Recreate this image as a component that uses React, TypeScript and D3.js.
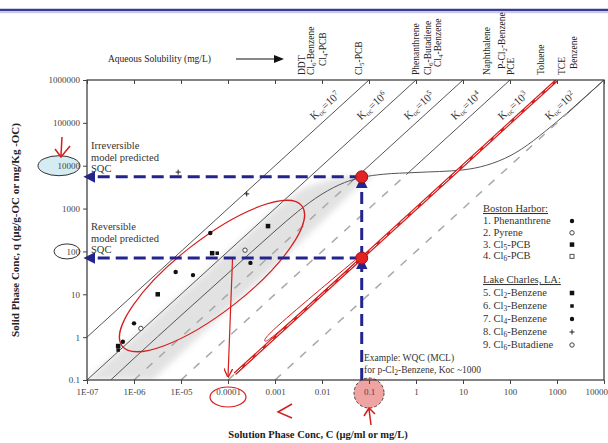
import React, { useEffect, useRef } from 'react';
import * as d3 from 'd3';

// ---- data (C in mg/L, q in mg/kg-OC) ----
const xTicks = [1e-7, 1e-6, 1e-5, 1e-4, 1e-3, 1e-2, 0.1, 1, 10, 100, 1000, 10000];
const xTickLabels = ["1E-07", "1E-06", "1E-05", "0.0001", "0.001", "0.01", "0.1", "1", "10", "100", "1000", "10000"];
const yTicks = [0.1, 1, 10, 100, 1000, 10000, 100000, 1000000];
const yTickLabels = ["0.1", "1", "10", "100", "1000", "10000", "100000", "1000000"];

const kocExps = [7, 6, 5, 4, 3, 2];

// biphasic isotherm
const curveC = [3.2e-7, 1e-6, 1e-5, 1e-4, 1e-3, 3e-3, 1e-2, 3e-2, 0.07, 0.2, 1, 10, 100, 1000, 3162, 10000];
const curveQ = [0.1, 0.32, 3.2, 31, 300, 840, 2180, 4030, 5330, 6320, 6950, 7990, 17000, 107000, 323000, 1000000];

// shaded band around the irreversible branch
const bandUpper = [[1e-7, 0.1], [1e-5, 10], [1e-3, 1000], [4e-3, 3000], [0.02, 5300], [0.12, 6600]];
const bandLower = [[0.12, 5700], [0.05, 2800], [1e-2, 500], [1e-3, 45], [1e-4, 4.5], [2.5e-6, 0.1]];

// compounds on the solubility axis (mg/L)
const solNames = ["DDT", "Cl6-Benzene", "Cl4-PCB", "Cl5-PCB", "Phenanthrene", "Cl6-Butadiene", "Cl4-Benzene",
  "Naphthalene", "P-Cl2-Benzene", "PCE", "Toluene", "TCE", "Benzene"];
const solValues = [0.0037, 0.0056, 0.01, 0.06, 0.98, 1.8, 2.8, 32, 66, 100, 440, 1250, 2200];
const solLift = [0, 0, 9, 0, 0, 0, 8, 0, 6, 0, 0, 0, 6];

// measured points: C, q, legend index
const pointC = [4.6e-7, 4.6e-7, 5.8e-7, 1e-6, 1.4e-6, 3.2e-6, 7.7e-6, 1.8e-5, 4.2e-5, 4.6e-5, 5.9e-5, 2.3e-4, 3e-4, 7.1e-4, 2.5e-4, 8.7e-6];
const pointQ = [0.62, 0.5, 0.78, 2.1, 1.6, 10, 33, 28, 270, 91, 91, 107, 54, 390, 2200, 7100];
const pointType = [5, 6, 1, 7, 9, 3, 1, 7, 1, 5, 6, 2, 7, 3, 8, 8];

const bostonNames = ["Phenanthrene", "Pyrene", "Cl5-PCB", "Cl6-PCB"];
const lakeNames = ["Cl2-Benzene", "Cl3-Benzene", "Cl4-Benzene", "Cl6-Benzene", "Cl6-Butadiene"];

// example (p-Cl2-Benzene)
const wqc = 0.07;
const sqcRev = 70;
const sqcIrr = 5500;

// hand-drawn red annotations, in data units
const redLineC = [1.4e-4, 1000];
const redLoop = [[0.05, 62], [2e-3, 3.2], [6.5e-4, 1.05], [5.6e-4, 0.75], [8e-4, 0.85], [0.05, 52]];
const redDrop = [[1.25e-4, 70], [1.0e-4, 0.12]];

const navy = "#24248f";
const red = "#d41e1e";
const serif = "Liberation Serif, Times New Roman, serif";

const App = () => {
  const svgRef = useRef<SVGSVGElement>(null);

  useEffect(() => {
    const svg = d3.select(svgRef.current);
    svg.selectAll("*").remove();
    const W = 608, H = 443;
    svg.attr("width", W).attr("height", H);

    const x = d3.scaleLog().domain([1e-7, 1e4]).range([87, 604]);
    const y = d3.scaleLog().domain([0.1, 1e6]).range([380, 80]);
    const left = 87, right = 604, top = 80, bottom = 380;

    svg.append("rect").attr("width", W).attr("height", H).attr("fill", "#fff");

    const defs = svg.append("defs");
    defs.append("filter").attr("id", "blur").append("feGaussianBlur").attr("stdDeviation", 3);
    defs.append("clipPath").attr("id", "plot").append("rect")
      .attr("x", left).attr("y", top).attr("width", right - left).attr("height", bottom - top);
    defs.append("marker").attr("id", "arrowBlue").attr("viewBox", "0 0 10 10")
      .attr("refX", 2).attr("refY", 5).attr("markerWidth", 4).attr("markerHeight", 4)
      .attr("orient", "auto").attr("markerUnits", "strokeWidth")
      .append("path").attr("d", "M0,0 L10,5 L0,10 z").attr("fill", navy);
    defs.append("marker").attr("id", "arrowRed").attr("viewBox", "0 0 10 10")
      .attr("refX", 9).attr("refY", 5).attr("markerWidth", 9).attr("markerHeight", 9)
      .attr("orient", "auto").attr("markerUnits", "userSpaceOnUse")
      .append("path").attr("d", "M0,0 L10,5 L0,10").attr("fill", "none").attr("stroke", red).attr("stroke-width", 1.5);

    // header rule
    svg.append("line").attr("x1", 0).attr("x2", W).attr("y1", 10).attr("y2", 10)
      .attr("stroke", "#3a3a96").attr("stroke-width", 2.5);
    svg.append("line").attr("x1", 0).attr("x2", W).attr("y1", 12.5).attr("y2", 12.5)
      .attr("stroke", "#c9cbe6").attr("stroke-width", 1.5);

    // highlighted tick label on x axis (under the text)
    svg.append("circle").attr("cx", x(0.1)).attr("cy", 393).attr("r", 15)
      .attr("fill", "#f0a3a3").attr("stroke", "#444").attr("stroke-dasharray", "3,2");

    const plot = svg.append("g").attr("clip-path", "url(#plot)");

    // shaded band
    const band = bandUpper.concat(bandLower);
    plot.append("path")
      .attr("d", d3.line()(band.map(d => [x(d[0]), y(d[1])]) as [number, number][]) + "Z")
      .attr("fill", "#cfcfcf").attr("opacity", 0.6).attr("filter", "url(#blur)");

    // biphasic curve
    const curvePts = curveC.map((c, i) => [x(c), y(curveQ[i])] as [number, number]);
    plot.append("path").attr("d", d3.line().curve(d3.curveMonotoneX)(curvePts))
      .attr("fill", "none").attr("stroke", "#555").attr("stroke-width", 1);

    // curve q at C, interpolated in log space
    const logCurve = d3.scaleLinear().domain(curveC.map(Math.log10)).range(curveQ.map(Math.log10));
    const ang = Math.atan2(y(1) - y(10), x(10) - x(1));

    // Koc lines: solid above the curve, dashed below
    kocExps.forEach(e => {
      const K = Math.pow(10, e);
      const c0 = Math.max(1e-7, 0.1 / K);
      const c1 = Math.min(1e4, 1e6 / K);
      const samples = d3.range(0, 201).map(i => Math.pow(10, Math.log10(c0) + (Math.log10(c1) - Math.log10(c0)) * i / 200));
      let split = c0;
      samples.forEach(c => { if (Math.log10(K * c) < logCurve(Math.log10(c)) - 0.02) split = c; });
      if (split > c0) {
        plot.append("line")
          .attr("x1", x(c0)).attr("y1", y(K * c0)).attr("x2", x(split)).attr("y2", y(K * split))
          .attr("stroke", "#a8a8a8").attr("stroke-width", 1.5).attr("stroke-dasharray", "8,9");
      }
      plot.append("line")
        .attr("x1", x(split)).attr("y1", y(K * split)).attr("x2", x(c1)).attr("y2", y(K * c1))
        .attr("stroke", "#555").attr("stroke-width", 1);

      // label, on the upper-left side of its line
      const qL = Math.pow(10, 5.5);
      const ux = Math.cos(ang), uy = -Math.sin(ang);
      const nx = -Math.sin(ang), ny = -Math.cos(ang);
      const px = x(qL / K) - 18 * ux + 11 * nx;
      const py = y(qL) - 18 * uy + 11 * ny;
      const t = svg.append("text")
        .attr("transform", `translate(${px},${py}) rotate(${-ang * 180 / Math.PI})`)
        .attr("text-anchor", "middle").attr("dy", "0.35em")
        .attr("font-family", serif).attr("font-size", 11).attr("fill", "#333");
      t.append("tspan").text("K");
      t.append("tspan").attr("font-size", 7.5).attr("dy", 2).text("oc");
      t.append("tspan").attr("dy", -2).text("=10");
      t.append("tspan").attr("font-size", 7.5).attr("dy", -4).text(String(e));
    });

    // red hand-drawn annotations
    const K3 = 1000;
    plot.append("line").attr("x1", x(redLineC[0])).attr("y1", y(K3 * redLineC[0]))
      .attr("x2", x(redLineC[1])).attr("y2", y(K3 * redLineC[1]))
      .attr("stroke", red).attr("stroke-width", 3.2);
    plot.append("line").attr("x1", x(redLineC[0])).attr("y1", y(K3 * redLineC[0]))
      .attr("x2", x(redLineC[1])).attr("y2", y(K3 * redLineC[1]))
      .attr("stroke", "#fff").attr("stroke-width", 1).attr("stroke-dasharray", "10,4");
    plot.append("path")
      .attr("d", d3.line().curve(d3.curveBasis)(redLoop.map(d => [x(d[0]), y(d[1])]) as [number, number][]))
      .attr("fill", "none").attr("stroke", red).attr("stroke-width", 1);

    // ellipse around data
    svg.append("ellipse").attr("cx", 212).attr("cy", 276).attr("rx", 114).attr("ry", 36)
      .attr("transform", `rotate(-38, 212, 276)`)
      .attr("fill", "none").attr("stroke", red).attr("stroke-width", 1.2);

    svg.append("line").attr("x1", x(redDrop[0][0])).attr("y1", y(redDrop[0][1]))
      .attr("x2", x(redDrop[1][0])).attr("y2", y(redDrop[1][1]))
      .attr("stroke", red).attr("stroke-width", 1.2).attr("marker-end", "url(#arrowRed)");

    // blue dashed SQC guides
    [sqcIrr, sqcRev].forEach(q => {
      svg.append("line").attr("x1", x(wqc)).attr("x2", left + 6).attr("y1", y(q)).attr("y2", y(q))
        .attr("stroke", navy).attr("stroke-width", 3).attr("stroke-dasharray", "12,6")
        .attr("marker-end", "url(#arrowBlue)");
    });
    svg.append("line").attr("x1", x(wqc)).attr("x2", x(wqc)).attr("y1", bottom).attr("y2", y(sqcRev) + 9)
      .attr("stroke", navy).attr("stroke-width", 3).attr("stroke-dasharray", "12,6")
      .attr("marker-end", "url(#arrowBlue)");
    svg.append("line").attr("x1", x(wqc)).attr("x2", x(wqc)).attr("y1", y(sqcRev)).attr("y2", y(sqcIrr) + 9)
      .attr("stroke", navy).attr("stroke-width", 3).attr("stroke-dasharray", "12,6")
      .attr("marker-end", "url(#arrowBlue)");
    [sqcIrr, sqcRev].forEach(q => {
      svg.append("circle").attr("cx", x(wqc)).attr("cy", y(q)).attr("r", 6)
        .attr("fill", "#e32222").attr("stroke", "#a01010").attr("stroke-width", 1);
    });

    // data points
    const drawMarker = (g: any, cx: number, cy: number, type: number) => {
      if (type === 3 || type === 5 || type === 6) {
        const s = type === 6 ? 3.5 : 4.5;
        g.append("rect").attr("x", cx - s / 2).attr("y", cy - s / 2).attr("width", s).attr("height", s).attr("fill", "#111");
      } else if (type === 4) {
        g.append("rect").attr("x", cx - 2).attr("y", cy - 2).attr("width", 4).attr("height", 4)
          .attr("fill", "#fff").attr("stroke", "#555");
      } else if (type === 2 || type === 9) {
        g.append("circle").attr("cx", cx).attr("cy", cy).attr("r", 2.2).attr("fill", "#fff").attr("stroke", "#444");
      } else if (type === 8) {
        g.append("path").attr("d", `M${cx - 2.5},${cy}H${cx + 2.5}M${cx},${cy - 2.5}V${cy + 2.5}`)
          .attr("stroke", "#222").attr("stroke-width", 1);
      } else {
        g.append("circle").attr("cx", cx).attr("cy", cy).attr("r", 2.2).attr("fill", "#111");
      }
    };
    const pts = svg.append("g");
    pointC.forEach((c, i) => drawMarker(pts, x(c), y(pointQ[i]), pointType[i]));

    // frame and axes
    svg.append("rect").attr("x", left).attr("y", top).attr("width", right - left).attr("height", bottom - top)
      .attr("fill", "none").attr("stroke", "#333").attr("stroke-width", 1.2);

    svg.append("g").attr("transform", `translate(0,${bottom})`)
      .call(d3.axisBottom(x).tickValues(xTicks).tickSize(4).tickFormat((d, i) => xTickLabels[i]))
      .call(g => g.select(".domain").remove())
      .call(g => g.selectAll("text").attr("font-family", serif).attr("font-size", 9).attr("fill", "#444").attr("dy", "0.9em"))
      .call(g => g.selectAll("text").filter((d, i) => i === xTicks.length - 1).attr("text-anchor", "end").attr("x", 3.5))
      .call(g => g.selectAll("line").attr("stroke", "#444"));
    svg.append("g").attr("transform", `translate(0,${top})`)
      .call(d3.axisBottom(x).tickValues(xTicks).tickSize(4).tickFormat(() => ""))
      .call(g => g.select(".domain").remove())
      .call(g => g.selectAll("line").attr("stroke", "#444"));
    svg.append("g").attr("transform", `translate(${left},0)`)
      .call(d3.axisLeft(y).tickValues(yTicks).tickSize(4).tickFormat((d, i) => yTickLabels[i]))
      .call(g => g.select(".domain").remove())
      .call(g => g.selectAll("text").attr("font-family", serif).attr("font-size", 9).attr("fill", "#444")
        .attr("x", -7))
      .call(g => g.selectAll("line").attr("stroke", "#444"));

    // highlighted tick labels on y axis
    svg.insert("ellipse", "g").attr("cx", 59).attr("cy", y(10000)).attr("rx", 21).attr("ry", 10)
      .attr("fill", "#d5ecf2").attr("stroke", "#333").attr("stroke-width", 1);
    svg.append("ellipse").attr("cx", 67).attr("cy", y(100)).attr("rx", 13).attr("ry", 7.5)
      .attr("fill", "none").attr("stroke", "#333").attr("stroke-width", 1);
    svg.append("path").attr("d", "M62,137 L61,155 M55,149 L61,157 L70,146")
      .attr("fill", "none").attr("stroke", red).attr("stroke-width", 1.5);

    svg.append("path").attr("d", `M${x(0.1) + 2},425 L${x(0.1)},409 M${x(0.1) - 5},416 L${x(0.1)},408 L${x(0.1) + 6},414`)
      .attr("fill", "none").attr("stroke", red).attr("stroke-width", 1.5);
    svg.append("ellipse").attr("cx", x(1e-4)).attr("cy", 397).attr("rx", 18).attr("ry", 10)
      .attr("fill", "none").attr("stroke", red).attr("stroke-width", 1.2);
    svg.append("path").attr("d", "M292,404 L278,412 L292,418").attr("fill", "none").attr("stroke", red).attr("stroke-width", 1.5);

    // solubility axis
    svg.append("text").attr("x", 108).attr("y", 62).attr("font-family", serif).attr("font-size", 9.5).attr("fill", "#222")
      .text("Aqueous Solubility (mg/L)");
    svg.append("line").attr("x1", 236).attr("x2", 276).attr("y1", 59).attr("y2", 59).attr("stroke", "#111").attr("stroke-width", 1.2);
    svg.append("path").attr("d", "M284,59 L274,55 L274,63 Z").attr("fill", "#111");
    solNames.forEach((n, i) => {
      const t = svg.append("text")
        .attr("transform", `translate(${x(solValues[i]) + 3.5},${75 - solLift[i]}) rotate(-90)`)
        .attr("font-family", serif).attr("font-size", 9.5).attr("fill", "#222");
      const m = n.match(/^(.*?Cl)(\d)(.*)$/);
      if (m) {
        t.append("tspan").text(m[1]);
        t.append("tspan").attr("font-size", 7).attr("dy", 2).text(m[2]);
        t.append("tspan").attr("dy", -2).text(m[3]);
      } else t.text(n);
    });

    // annotations
    const note = (lines: string[], x0: number, y0: number) => {
      lines.forEach((l, i) => svg.append("text").attr("x", x0).attr("y", y0 + i * 11.5)
        .attr("font-family", serif).attr("font-size", 10.5).attr("fill", "#333").text(l));
    };
    note(["Irreversible", "model predicted", "SQC"], 91, 149);
    note(["Reversible", "model predicted", "SQC"], 91, 230);

    const sub = (t: any, s: string) => {
      const m = s.match(/^(.*?Cl)(\d)(.*)$/);
      if (m) {
        t.append("tspan").text(m[1]);
        t.append("tspan").attr("font-size", 7.5).attr("dy", 2).text(m[2]);
        t.append("tspan").attr("dy", -2).text(m[3]);
      } else t.append("tspan").text(s);
    };
    svg.append("text").attr("x", 364).attr("y", 361).attr("font-family", serif).attr("font-size", 9.5).attr("fill", "#333")
      .text("Example:  WQC (MCL)");
    const ex2 = svg.append("text").attr("x", 364).attr("y", 373).attr("font-family", serif).attr("font-size", 9.5).attr("fill", "#333");
    sub(ex2, "for p-Cl2-Benzene, Koc ~1000");

    // legend
    const lx = 483, mx = 572;
    const head = (s: string, yy: number) => {
      svg.append("text").attr("x", lx).attr("y", yy).attr("font-family", serif).attr("font-size", 10.5)
        .attr("fill", "#333").attr("text-decoration", "underline").text(s);
    };
    head("Boston Harbor:", 212);
    bostonNames.forEach((n, i) => {
      const yy = 224 + i * 11.8;
      const t = svg.append("text").attr("x", lx).attr("y", yy).attr("font-family", serif).attr("font-size", 10.5).attr("fill", "#333");
      sub(t, `${i + 1}.  ${n}`);
      drawMarker(svg, mx, yy - 3, i + 1);
    });
    head("Lake Charles, LA:", 283);
    lakeNames.forEach((n, i) => {
      const yy = 296 + i * 13;
      const t = svg.append("text").attr("x", lx).attr("y", yy).attr("font-family", serif).attr("font-size", 10.5).attr("fill", "#333");
      sub(t, `${i + 5}.  ${n}`);
      drawMarker(svg, mx, yy - 3, i + 5);
    });

    // axis titles
    svg.append("text").attr("transform", `translate(19,230) rotate(-90)`).attr("text-anchor", "middle")
      .attr("font-family", serif).attr("font-size", 11).attr("font-weight", "bold").attr("fill", "#222")
      .text("Solid Phase Conc, q (µg/g-OC or mg/Kg -OC)");
    svg.append("text").attr("x", 318).attr("y", 438).attr("text-anchor", "middle")
      .attr("font-family", serif).attr("font-size", 10.5).attr("font-weight", "bold").attr("fill", "#222")
      .text("Solution Phase Conc, C (µg/ml or mg/L)");
  }, []);

  return (
    <div style={{ position: "fixed", left: 0, top: 0 }}>
      <svg ref={svgRef} style={{ display: "block" }}></svg>
    </div>
  );
};

export default App;
